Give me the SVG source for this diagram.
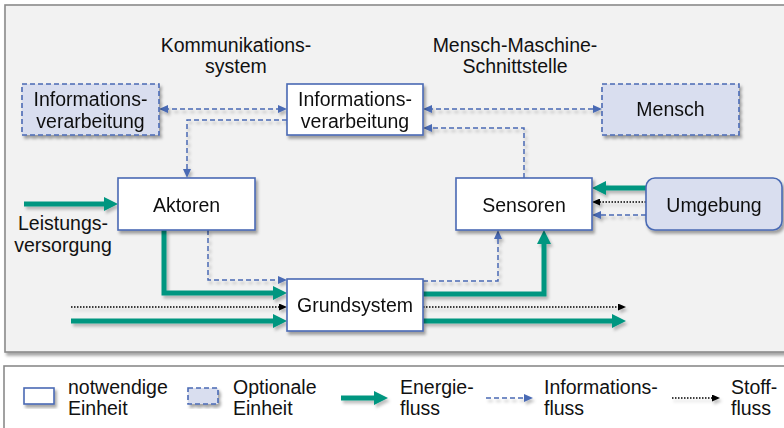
<svg xmlns="http://www.w3.org/2000/svg" width="784" height="428" viewBox="0 0 784 428">
<defs>
  <filter id="sh" x="-10%" y="-10%" width="130%" height="140%">
    <feDropShadow dx="2" dy="3" stdDeviation="1.8" flood-color="#000" flood-opacity="0.35"/>
  </filter>
  <filter id="shl" filterUnits="userSpaceOnUse" x="0" y="0" width="784" height="428">
    <feDropShadow dx="2" dy="3" stdDeviation="1.5" flood-color="#000" flood-opacity="0.25"/>
  </filter>
  <marker id="mg" markerUnits="userSpaceOnUse" markerWidth="14" markerHeight="14" refX="4" refY="7" orient="auto">
    <path d="M0,0 L14,7 L0,14 z" fill="#009680"/>
  </marker>
  <marker id="mb" markerUnits="userSpaceOnUse" markerWidth="9" markerHeight="8" refX="4" refY="4" orient="auto-start-reverse">
    <path d="M0,0 L9,4 L0,8 z" fill="#4a6ab4"/>
  </marker>
  <marker id="mk" markerUnits="userSpaceOnUse" markerWidth="8" markerHeight="7" refX="3" refY="3.5" orient="auto">
    <path d="M0,0 L8,3.5 L0,7 z" fill="#000"/>
  </marker>
  <style>
    text { font-family: "Liberation Sans", Arial, sans-serif; font-size: 19.5px; fill: #111; }
    .c { text-anchor: middle; }
    .req { fill: #ffffff; stroke: #4a6ab4; stroke-width: 1.6; }
    .opt { fill: #d9deef; stroke: #4a6ab4; stroke-width: 1.6; stroke-dasharray: 5 3; }
    .env { fill: #d9deef; stroke: #4a6ab4; stroke-width: 1.6; }
    .g { fill: none; stroke: #009680; stroke-width: 5; marker-end: url(#mg); }
    .b { fill: none; stroke: #4a6ab4; stroke-width: 1.5; stroke-dasharray: 5 3; marker-end: url(#mb); }
    .bb { marker-start: url(#mb); }
    .k { fill: none; stroke: #000; stroke-width: 1.5; stroke-dasharray: 1.5 1.5; marker-end: url(#mk); }
  </style>
</defs>

<!-- main frame -->
<rect x="5" y="5" width="785" height="347" fill="#f2f2f2" stroke="#8a8a8a" stroke-width="1.6" filter="url(#sh)"/>
<!-- legend frame -->
<rect x="4" y="366" width="786" height="70" fill="#ffffff" stroke="#8a8a8a" stroke-width="1.6"/>

<!-- free labels -->
<text class="c" x="236" y="52">Kommunikations-</text>
<text class="c" x="236" y="73">system</text>
<text class="c" x="515" y="52">Mensch-Maschine-</text>
<text class="c" x="515" y="73">Schnittstelle</text>
<text class="c" x="63" y="230">Leistungs-</text>
<text class="c" x="63" y="252">versorgung</text>

<!-- connectors -->
<g id="connectors" filter="url(#shl)">
  <path class="b bb" d="M164,109 H282"/>
  <path class="b" d="M287,120 H187 V173"/>
  <path class="b bb" d="M428,109 H597"/>
  <path class="b" d="M524,178 V128 H428"/>
  <path class="g" d="M24,204 H108"/>
  <path class="b" d="M208,230 V280 H282"/>
  <path class="g" d="M164,230 V293 H277"/>
  <path class="k" d="M71,307 H282"/>
  <path class="g" d="M71,321 H277"/>
  <path class="k" d="M423,307 H621"/>
  <path class="g" d="M423,321 H616"/>
  <path class="b" d="M423,281 H498 V235"/>
  <path class="g" d="M423,294 H544 V240"/>
  <path class="g" d="M646,188 H602"/>
  <path class="k" d="M646,202 H597"/>
  <path class="b" d="M646,215 H597"/>
</g>

<!-- nodes -->
<g id="info-left" filter="url(#sh)">
  <rect class="opt" x="22" y="84" width="137" height="51"/>
  <text class="c" x="90.5" y="106">Informations-</text>
  <text class="c" x="90.5" y="128">verarbeitung</text>
</g>
<g id="info-center" filter="url(#sh)">
  <rect class="req" x="287" y="84" width="136" height="51"/>
  <text class="c" x="355" y="106">Informations-</text>
  <text class="c" x="355" y="128">verarbeitung</text>
</g>
<g id="mensch" filter="url(#sh)">
  <rect class="opt" x="602" y="84" width="137" height="51"/>
  <text class="c" x="670.5" y="116">Mensch</text>
</g>
<g id="aktoren" filter="url(#sh)">
  <rect class="req" x="118" y="178" width="137" height="52"/>
  <text class="c" x="186.5" y="212">Aktoren</text>
</g>
<g id="sensoren" filter="url(#sh)">
  <rect class="req" x="456" y="178" width="136" height="52"/>
  <text class="c" x="524" y="212">Sensoren</text>
</g>
<g id="umgebung" filter="url(#sh)">
  <rect class="env" x="646" y="178" width="136" height="52" rx="9" ry="9"/>
  <text class="c" x="714" y="212">Umgebung</text>
</g>
<g id="grundsystem" filter="url(#sh)">
  <rect class="req" x="287" y="279" width="136" height="52"/>
  <text class="c" x="355" y="312">Grundsystem</text>
</g>

<!-- legend -->
<g id="legend">
  <rect class="req" x="24" y="388" width="30" height="16" filter="url(#sh)"/>
  <text x="68" y="394">notwendige</text>
  <text x="68" y="415">Einheit</text>
  <rect class="opt" x="188" y="388" width="30" height="16" filter="url(#sh)"/>
  <text x="233" y="394">Optionale</text>
  <text x="233" y="415">Einheit</text>
  <g filter="url(#shl)">
    <path class="g" d="M341,398 H378"/>
    <path class="b" d="M486,398 H528"/>
    <path class="k" d="M672,398 H715"/>
  </g>
  <text x="400" y="394">Energie-</text>
  <text x="400" y="415">fluss</text>
  <text x="544" y="394">Informations-</text>
  <text x="544" y="415">fluss</text>
  <text x="731" y="394">Stoff-</text>
  <text x="731" y="415">fluss</text>
</g>
</svg>
